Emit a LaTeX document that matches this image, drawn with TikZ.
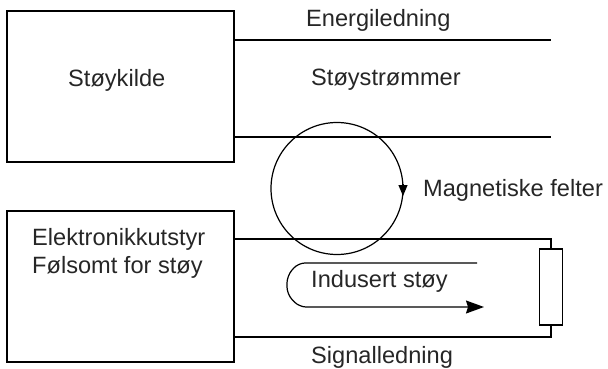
\documentclass[tikz,border=0pt]{standalone}
\usepackage{fontspec}
\setmainfont{Liberation Sans}
\usetikzlibrary{arrows.meta}
\tikzset{
    boks/.style={draw, line width=1.6pt, minimum width=227pt, minimum height=151pt, inner sep=0pt},
    tekst/.style={inner sep=0pt, font=\fontsize{23.6}{28}\selectfont, text=black!85},
    ledning/.style={line width=1.2pt},
}
\begin{document}
\begin{tikzpicture}[x=1pt, y=-1pt]
    \useasboundingbox (0,0) rectangle (608,369);
    % bokser
    \node[boks] (kilde) at (120.5,86.5) {};
    \node[boks] (utstyr) at (120.5,286.5) {};
    \node[draw, line width=1.2pt, minimum width=23pt, minimum height=76pt, inner sep=0pt] (motstand) at (551,287) {};
    % endepunkter
    \coordinate (e1) at (551,40);
    \coordinate (e2) at (551,137);
    \coordinate (s1) at (551,239);
    \coordinate (s2) at (551,337);
    \draw[ledning] (kilde.east |- e1) -- (e1);
    \draw[ledning] (kilde.east |- e2) -- (e2);
    \draw[ledning] (utstyr.east |- s1) -- (s1) -- (motstand.north);
    \draw[ledning] (utstyr.east |- s2) -- (s2) -- (motstand.south);
    % magnetfelt
    \coordinate (felt) at (337,188.5);
    \draw[ledning] (felt) circle (66pt);
    \draw[ledning, -{Triangle[length=11pt,width=9pt]}] (403,184) -- (403,196);
    % indusert stoy
    \coordinate (i1) at (477,263);
    \coordinate (i2) at (484,307);
    \draw[ledning, rounded corners=7pt, -{Stealth[length=18pt,width=13pt,inset=2pt]}]
        (i1) -- (298,263) -- (287,276) -- (287,294) -- (299,307) -- (i2);
    % tekster
    \node[tekst, anchor=base west] (energi) at (306,27) {Energiledning};
    \node[tekst, anchor=base west] (strom) at (311,85) {Støystrømmer};
    \node[tekst, anchor=base west] (kildetxt) at (68,86) {Støykilde};
    \node[tekst, anchor=base west] (magnet) at (423,196) {Magnetiske felter};
    \node[tekst, anchor=base west, align=left] (utstyrtxt) at (32,273) {Elektronikkutstyr\\Følsomt for støy};
    \node[tekst, anchor=base west] (indusert) at (311,287) {Indusert støy};
    \node[tekst, anchor=base west] (signal) at (311,363) {Signalledning};
\end{tikzpicture}
\end{document}
